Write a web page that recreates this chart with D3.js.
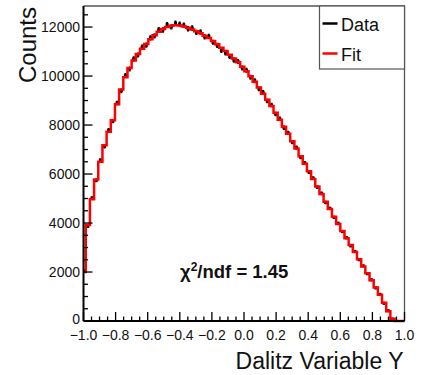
<!DOCTYPE html>
<html>
<head>
<meta charset="utf-8">
<script src="https://cdn.jsdelivr.net/npm/d3@7"></script>
<style>
  body { margin: 0; background: #fff; }
  text { font-family: "Liberation Sans", Arial, Helvetica, sans-serif; fill: #111; }
</style>
</head>
<body>
<div id="graphic"></div>
<script>
// Histogram binning (ROOT style): low edge of first bin and bin width
const binLow = -1.012;
const binWidth = 0.026;

// Fit histogram contents, one per bin
const fitCounts = [
  2000, 3920, 4970, 5780, 6500, 7180, 7730, 8200, 8850, 9450,
  9950, 10330, 10640, 10900, 11110, 11310, 11500, 11670, 11810, 11920,
  12000, 12050, 12070, 12060, 12020, 11970, 11900, 11830, 11750, 11650,
  11550, 11430, 11300, 11160, 11020, 10870, 10720, 10560, 10380, 10200,
  9990, 9770, 9530, 9280, 9030, 8780, 8500, 8220, 7930, 7640,
  7340, 7040, 6730, 6420, 6110, 5800, 5490, 5180, 4870, 4570,
  4260, 3960, 3670, 3380, 3100, 2820, 2520, 2230, 1950, 1660,
  1370, 1070, 740, 400, 90, 0, 0, 0
];

// Data histogram contents, one per bin
const dataCounts = [
  2040, 3870, 5020, 5740, 6560, 7130, 7790, 8160, 8900, 9400,
  10020, 10290, 10700, 10860, 11180, 11260, 11560, 11640, 11890, 11880,
  12100, 12010, 12160, 12120, 12080, 11930, 11960, 11780, 11800, 11600,
  11620, 11380, 11250, 11050, 10940, 10800, 10650, 10590, 10330, 10240,
  9950, 9810, 9480, 9330, 8980, 8820, 8450, 8260, 7890, 7680,
  7300, 7080, 6690, 6450, 6080, 5830, 5460, 5210, 4840, 4600,
  4230, 3990, 3650, 3400, 3070, 2840, 2500, 2250, 1930, 1680,
  1350, 1090, 720, 420, 80, 0, 0, 0
];

// Axis ticks and labels
const xMajorTicks = [-1.0, -0.8, -0.6, -0.4, -0.2, 0.0, 0.2, 0.4, 0.6, 0.8, 1.0];
const xTickLabels = ['\u22121.0', '\u22120.8', '\u22120.6', '\u22120.4', '\u22120.2', '0.0', '0.2', '0.4', '0.6', '0.8', '1.0'];
const yMajorTicks = [0, 2000, 4000, 6000, 8000, 10000, 12000];

const legendItems = [
  { label: 'Data', color: '#000' },
  { label: 'Fit', color: '#ff0000' }
];

(function(d3){

    // Canvas size
    let width = 430, height = 375;

    // Frame of the pad
    let frameLeft = 83.5, frameRight = 404.5, frameTop = 6, frameBottom = 321;

    let svg = d3.select('#graphic')
                .append('svg')
                .attr('width', width)
                .attr('height', height);

    let x = d3.scaleLinear().domain([-1, 1]).range([frameLeft, frameRight]);
    let y = d3.scaleLinear().domain([0, 12860]).range([frameBottom, frameTop]);

    // Clip histograms to the frame
    svg.append('clipPath').attr('id', 'frame-clip')
       .append('rect')
       .attr('x', frameLeft)
       .attr('y', frameTop)
       .attr('width', frameRight - frameLeft)
       .attr('height', frameBottom - frameTop + 2);

    let plot = svg.append('g').attr('clip-path', 'url(#frame-clip)');

    // Bin edges from low edge and width
    let binEdge = i => binLow + i * binWidth;

    // Data points: error bars and markers
    dataCounts.forEach((n, i) => {
        if (n <= 0) return;
        let cx = x(binEdge(i) + binWidth / 2);
        let err = Math.sqrt(n);
        plot.append('line')
            .attr('x1', cx).attr('x2', cx)
            .attr('y1', y(n - err)).attr('y2', y(n + err))
            .attr('stroke', '#000')
            .attr('stroke-width', 2);
        plot.append('rect')
            .attr('x', cx - 1.5).attr('y', y(n) - 1.5)
            .attr('width', 3).attr('height', 3)
            .attr('fill', '#000');
    });

    // Fit drawn as a step histogram
    let pts = [[binEdge(0), 0]];
    fitCounts.forEach((n, i) => {
        pts.push([binEdge(i), n]);
        pts.push([binEdge(i + 1), n]);
    });

    let line = d3.line().x(d => x(d[0])).y(d => y(d[1]));

    plot.append('path')
        .attr('d', line(pts))
        .attr('fill', 'none')
        .attr('stroke', '#ff0000')
        .attr('stroke-width', 2.5);

    // Frame top and right
    svg.append('path')
       .attr('d', `M${frameLeft},${frameTop}H${frameRight}V${frameBottom}`)
       .attr('fill', 'none')
       .attr('stroke', '#555')
       .attr('stroke-width', 1.3);

    // X axis: ticks pointing inward
    let xAxis = svg.append('g');
    d3.range(-1, 1.0001, 0.05).forEach(v => {
        let major = Math.abs(Math.round(v * 5) - v * 5) < 1e-6;
        xAxis.append('line')
             .attr('x1', x(v)).attr('x2', x(v))
             .attr('y1', frameBottom).attr('y2', frameBottom - (major ? 9 : 4.5))
             .attr('stroke', '#000').attr('stroke-width', 1.3);
    });
    xAxis.append('line')
         .attr('x1', frameLeft).attr('x2', frameRight)
         .attr('y1', frameBottom).attr('y2', frameBottom)
         .attr('stroke', '#000').attr('stroke-width', 2);
    xMajorTicks.forEach((v, i) => {
        xAxis.append('text')
             .attr('x', x(v))
             .attr('y', 340)
             .attr('text-anchor', 'middle')
             .style('font-size', '14px')
             .text(xTickLabels[i]);
    });

    // Y axis: ticks pointing inward
    let yAxis = svg.append('g');
    d3.range(0, 12501, 500).forEach(v => {
        let major = v % 2000 === 0;
        yAxis.append('line')
             .attr('x1', frameLeft).attr('x2', frameLeft + (major ? 9 : 4.5))
             .attr('y1', y(v)).attr('y2', y(v))
             .attr('stroke', '#000').attr('stroke-width', 1.3);
    });
    yAxis.append('line')
         .attr('x1', frameLeft).attr('x2', frameLeft)
         .attr('y1', frameTop).attr('y2', frameBottom)
         .attr('stroke', '#000').attr('stroke-width', 2);
    yMajorTicks.forEach(v => {
        yAxis.append('text')
             .attr('x', 80)
             .attr('y', y(v) + (v === 0 ? 3 : 5))
             .attr('text-anchor', 'end')
             .style('font-size', '14px')
             .text(v);
    });

    // Axis titles
    svg.append('text')
       .attr('x', frameRight - 1)
       .attr('y', 369)
       .attr('text-anchor', 'end')
       .style('font-size', '23px')
       .text('Dalitz Variable Y');

    svg.append('text')
       .attr('transform', `translate(36, ${frameTop + 1}) rotate(-90)`)
       .attr('text-anchor', 'end')
       .style('font-size', '24px')
       .text('Counts');

    // Chi2 / ndf
    let chi = svg.append('text')
       .attr('x', 180)
       .attr('y', 278)
       .style('font-size', '18.5px')
       .style('font-weight', 'bold');
    chi.append('tspan').text('\u03c7');
    chi.append('tspan').attr('dy', -7).style('font-size', '12px').text('2');
    chi.append('tspan').attr('dy', 7).text('/ndf = 1.45');

    // Legend
    let legend = svg.append('g');
    legend.append('rect')
          .attr('x', 319.5).attr('y', 6)
          .attr('width', frameRight - 319.5).attr('height', 63)
          .attr('fill', '#fff')
          .attr('stroke', '#555')
          .attr('stroke-width', 1.2);
    legendItems.forEach((item, i) => {
        let ly = 23.5 + i * 30;
        legend.append('line')
              .attr('x1', 322.5).attr('x2', 337.5)
              .attr('y1', ly).attr('y2', ly)
              .attr('stroke', item.color)
              .attr('stroke-width', 2.5);
        legend.append('text')
              .attr('x', 341)
              .attr('y', ly + 7)
              .style('font-size', '18px')
              .text(item.label);
    });

})(window.d3);
</script>
</body>
</html>
